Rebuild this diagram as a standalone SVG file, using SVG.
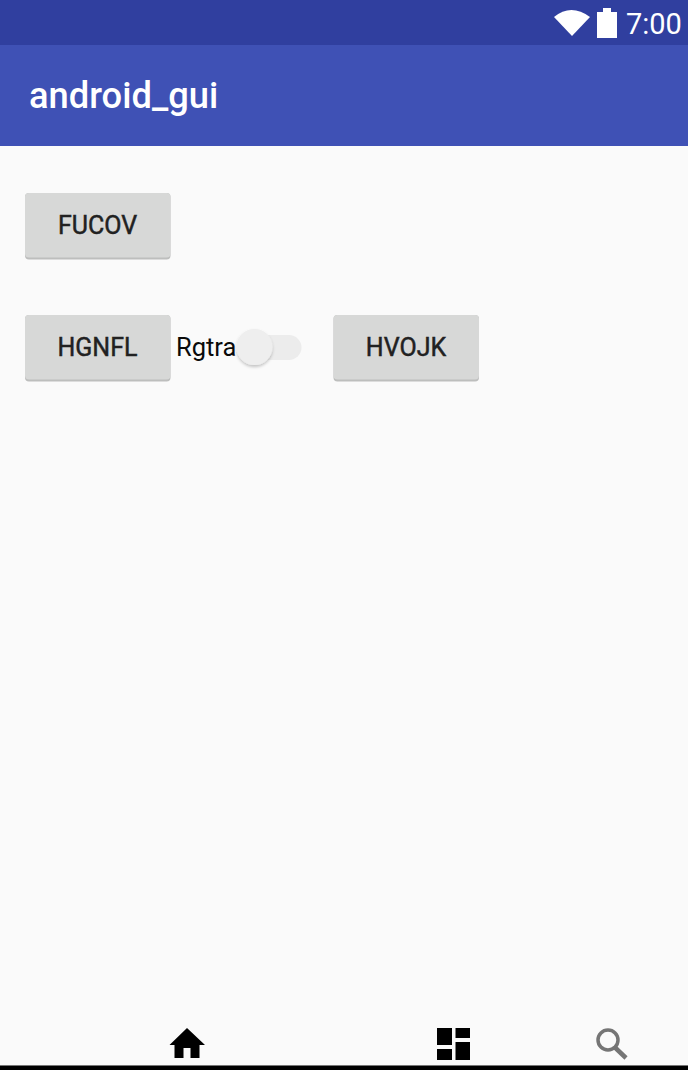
<svg xmlns="http://www.w3.org/2000/svg" width="688" height="1070" viewBox="0 0 688 1070">
<style>
text{font-family:Roboto,"Liberation Sans",sans-serif}
.btn{font-size:25px;font-weight:400;fill:#212121;text-anchor:middle;stroke:#212121;stroke-width:0.45}
.face{fill:#d7d8d7}
.edge{fill:#bdbebd}
</style>
<defs>
<filter id="sh" x="-40%" y="-40%" width="180%" height="180%"><feDropShadow dx="0" dy="2" stdDeviation="1.5" flood-color="#000" flood-opacity="0.22"/></filter>
</defs>
<rect width="688" height="1070" fill="#fafafa"/>
<g id="statusbar">
<rect width="688" height="45" fill="#303f9f"/>
<path d="M554 17Q571 3 590 17L572 36Z" fill="#fff"/>
<path d="M597 38V12H603V8H611V12H617V38Z" fill="#fff"/>
<text x="626" y="34" font-size="29" fill="#fff">7:00</text>
</g>
<g id="appbar">
<rect y="45" width="688" height="101" fill="#3f51b5"/>
<text x="29" y="108" font-size="36.300" font-weight="500" fill="#fff">android_gui</text>
</g>
<g id="btn-fucov">
<rect class="edge" x="25" y="193" width="145.500" height="66.500" rx="4"/>
<rect class="face" x="25" y="193" width="145.500" height="64.500" rx="4"/>
<text class="btn" x="97.500" y="234">FUCOV</text>
</g>
<g id="btn-hgnfl">
<rect class="edge" x="25" y="315" width="145.500" height="66.500" rx="4"/>
<rect class="face" x="25" y="315" width="145.500" height="64.500" rx="4"/>
<text class="btn" x="97.500" y="356">HGNFL</text>
</g>
<g id="switch">
<text x="176" y="356" font-size="25.500" fill="#0a0a0a">Rgtra</text>
<rect x="245" y="335" width="56.500" height="25" rx="12.500" fill="#ececec"/>
<circle cx="254.500" cy="347" r="18" fill="#eeeeee" filter="url(#sh)"/>
</g>
<g id="btn-hvojk">
<rect class="edge" x="333.500" y="315" width="145.500" height="66.500" rx="4"/>
<rect class="face" x="333.500" y="315" width="145.500" height="64.500" rx="4"/>
<text class="btn" x="406" y="356">HVOJK</text>
</g>
<g id="navbar">
<path d="M187 1028L205 1045H199.500V1058H190.500V1048H183.500V1058H174.500V1045H169.500Z" fill="#000"/>
<path d="M437 1028H452V1045H437ZM455.500 1028H470V1038H455.500ZM455.500 1042H470V1060H455.500ZM437 1049H452V1060H437Z" fill="#000"/>
<circle cx="608" cy="1040" r="10" fill="none" stroke="#757575" stroke-width="3.500"/>
<path d="M615 1047.500L626 1058" fill="none" stroke="#757575" stroke-width="4.500"/>
<rect y="1065" width="688" height="1" fill="#757575"/>
<rect y="1066" width="688" height="4" fill="#000"/>
</g>
</svg>
